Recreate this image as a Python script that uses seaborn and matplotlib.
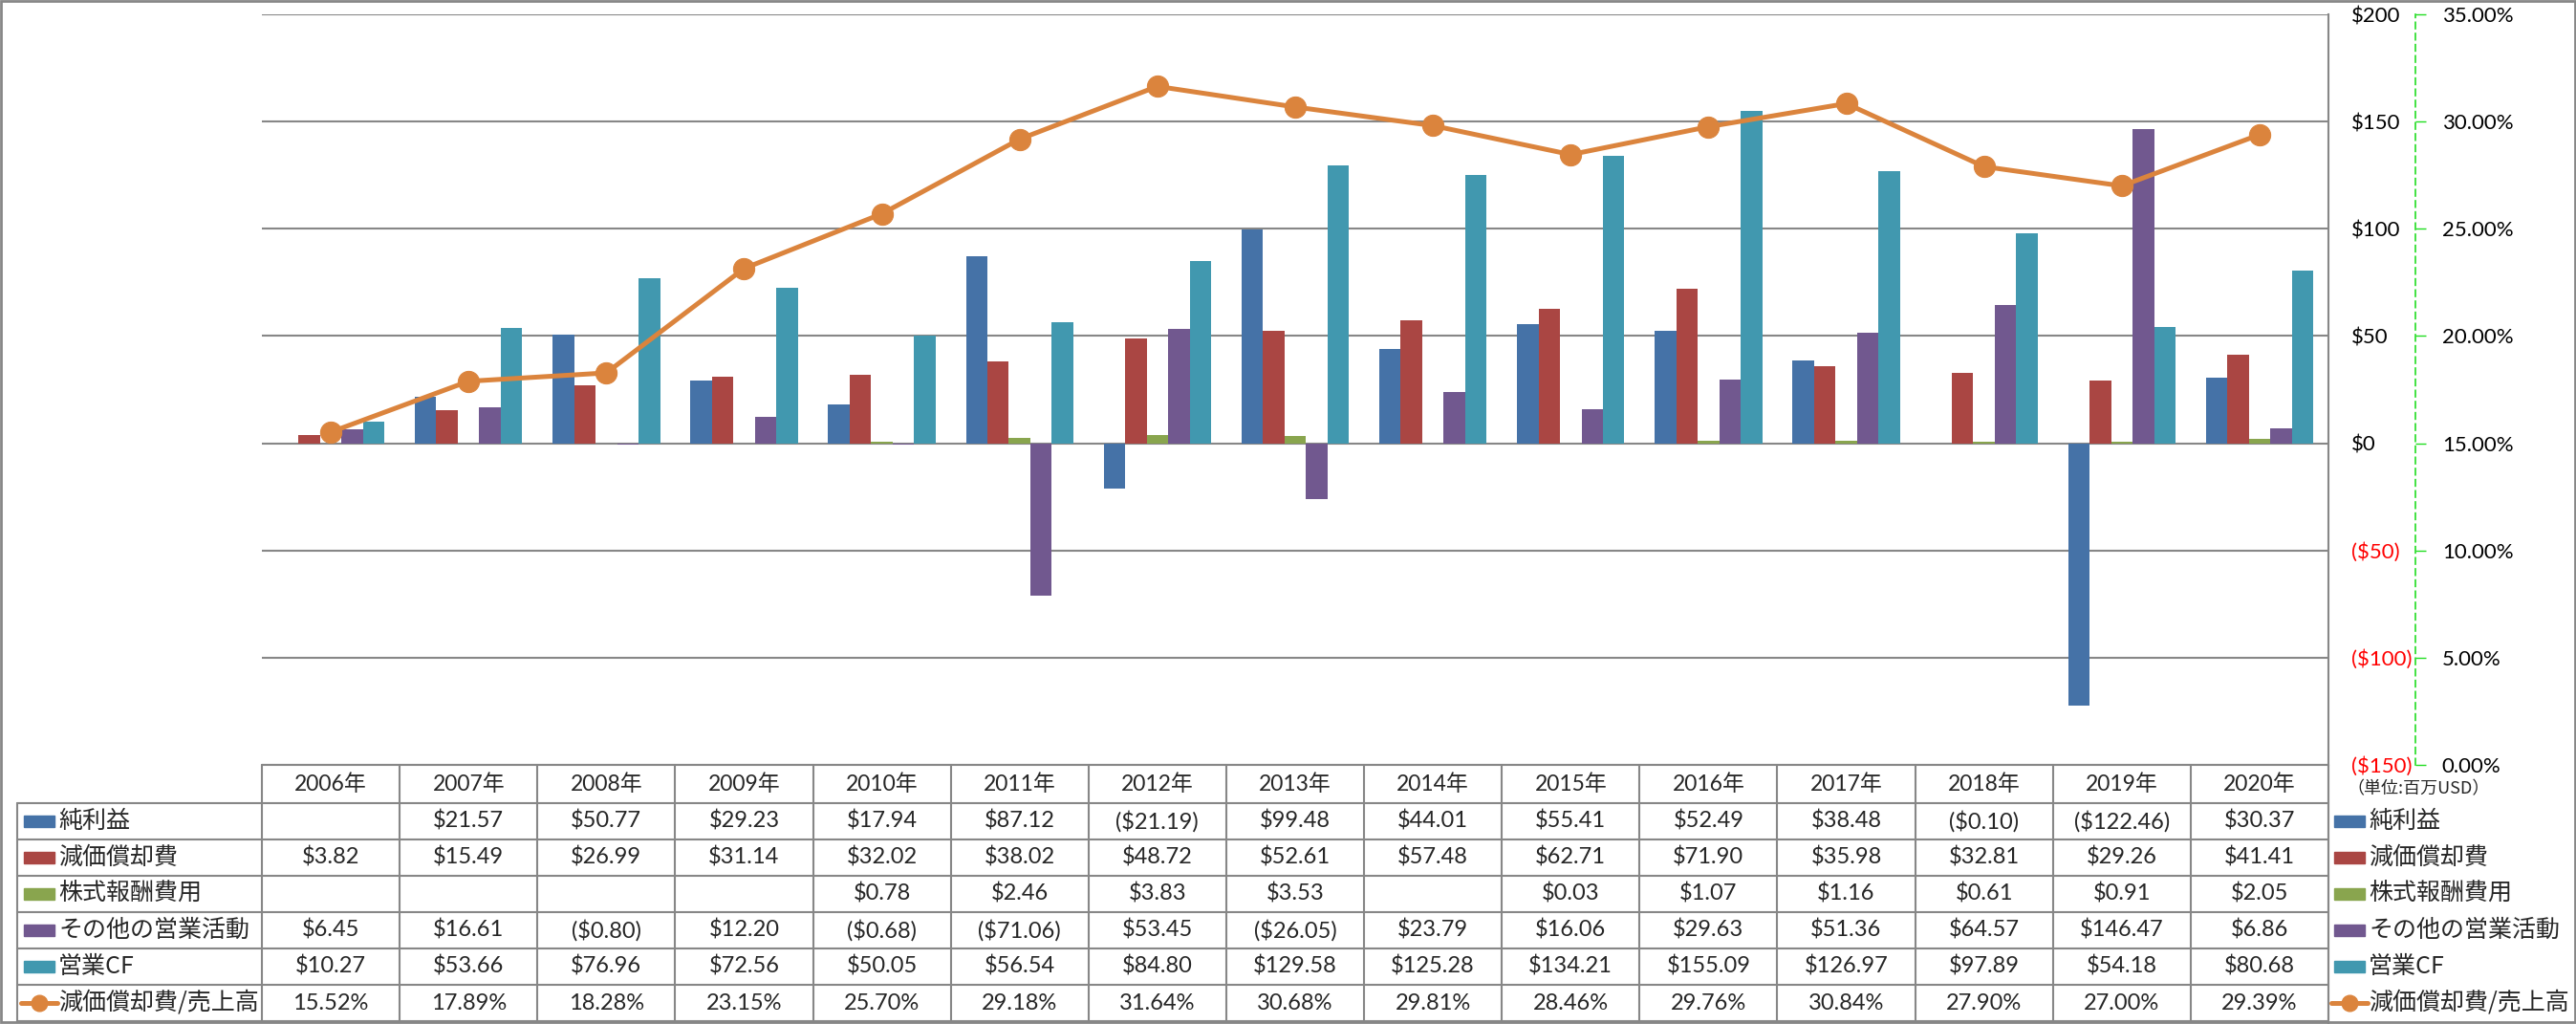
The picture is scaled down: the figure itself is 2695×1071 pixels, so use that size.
import numpy as np
import pandas as pd
import matplotlib
matplotlib.use("Agg")
import matplotlib.pyplot as plt
import matplotlib.ticker as mticker
from matplotlib.patches import Rectangle
from matplotlib.lines import Line2D
import seaborn as sns

# -----------------------------
# data (百万USD)
# -----------------------------
years = ["2006年", "2007年", "2008年", "2009年", "2010年", "2011年", "2012年", "2013年",
         "2014年", "2015年", "2016年", "2017年", "2018年", "2019年", "2020年"]
net_income = [np.nan, 21.57, 50.77, 29.23, 17.94, 87.12, -21.19, 99.48,
              44.01, 55.41, 52.49, 38.48, -0.10, -122.46, 30.37]
depreciation = [3.82, 15.49, 26.99, 31.14, 32.02, 38.02, 48.72, 52.61,
                57.48, 62.71, 71.90, 35.98, 32.81, 29.26, 41.41]
stock_comp = [np.nan, np.nan, np.nan, np.nan, 0.78, 2.46, 3.83, 3.53,
              np.nan, 0.03, 1.07, 1.16, 0.61, 0.91, 2.05]
other_ops = [6.45, 16.61, -0.80, 12.20, -0.68, -71.06, 53.45, -26.05,
             23.79, 16.06, 29.63, 51.36, 64.57, 146.47, 6.86]
operating_cf = [10.27, 53.66, 76.96, 72.56, 50.05, 56.54, 84.80, 129.58,
                125.28, 134.21, 155.09, 126.97, 97.89, 54.18, 80.68]
dep_to_sales = [15.52, 17.89, 18.28, 23.15, 25.70, 29.18, 31.64, 30.68,
                29.81, 28.46, 29.76, 30.84, 27.90, 27.00, 29.39]  # %

bar_series = ["純利益", "減価償却費", "株式報酬費用", "その他の営業活動", "営業CF"]
line_series = "減価償却費/売上高"
bar_colors = ["#4572A7", "#AA4643", "#89A54E", "#71588F", "#4198AF"]
line_color = "#DB843D"

wide = pd.DataFrame({"year": years,
                     bar_series[0]: net_income,
                     bar_series[1]: depreciation,
                     bar_series[2]: stock_comp,
                     bar_series[3]: other_ops,
                     bar_series[4]: operating_cf})
long = wide.melt(id_vars="year", var_name="series", value_name="value").dropna()

# -----------------------------
# style
# -----------------------------
sns.set_theme(style="white")
plt.rcParams["font.family"] = ["Lato", "Noto Sans CJK JP", "DejaVu Sans"]
JP = ["Noto Sans CJK JP", "DejaVu Sans"]
GRID = "#878787"

W, H = 2695, 1071
fig = plt.figure(figsize=(W / 100, H / 100), dpi=100)
fig.patch.set_facecolor("white")

PL, PR, PT, PB = 274, 2436, 15, 800
ax = fig.add_axes([PL / W, 1 - PB / H, (PR - PL) / W, (PB - PT) / H])

sns.barplot(data=long, x="year", y="value", hue="series", order=years,
            hue_order=bar_series, palette=bar_colors, saturation=1,
            width=0.78, errorbar=None, linewidth=0, legend=False, ax=ax)

# ratio line on secondary axis (twinx moves ax ticks to the left, so do it first)
ax2 = ax.twinx()
sns.lineplot(x=np.arange(len(years)), y=np.array(dep_to_sales) / 100, ax=ax2,
             color=line_color, linewidth=3.6, marker="o", markersize=16,
             markeredgecolor=line_color, legend=False)
ax2.set_ylim(0, 0.35)
ax2.set_yticks(np.arange(0, 0.351, 0.05))
ax2.yaxis.set_major_formatter(mticker.PercentFormatter(1.0, decimals=2))
ax2.tick_params(axis="y", direction="out", length=8, width=1, color="#22DD22",
                pad=12, labelsize=16, labelcolor="black")
for s in ["left", "top", "bottom"]:
    ax2.spines[s].set_visible(False)
ax2.spines["right"].set_position(("axes", (2527 - PL) / (PR - PL)))
ax2.spines["right"].set_color("#22DD22")
ax2.spines["right"].set_linestyle((0, (4, 3)))
ax2.spines["right"].set_linewidth(1.2)
ax2.set_ylabel("")

ax.set_ylim(-150, 200)
yt = list(range(-150, 201, 50))
ax.set_yticks(yt)
ax.yaxis.tick_right()
ax.yaxis.set_major_formatter(mticker.FuncFormatter(
    lambda v, p: f"(${abs(v):.0f})" if v < 0 else f"${v:.0f}"))
ax.tick_params(axis="y", length=0, pad=17, labelsize=16)
for tick, v in zip(ax.yaxis.get_major_ticks(), yt):
    tick.label2.set_color("#FF0000" if v < 0 else "black")
ax.tick_params(axis="x", length=0, labelbottom=False)
ax.set_xlabel("")
ax.set_ylabel("")
ax.grid(axis="y", color=GRID, linewidth=1.5)
ax.set_axisbelow(True)
for s in ["left", "top", "bottom"]:
    ax.spines[s].set_visible(False)
ax.spines["right"].set_color(GRID)
ax.spines["right"].set_linewidth(1.5)
ax.set_facecolor("none")
ax.set_xlim(-0.5, len(years) - 0.5)

# -----------------------------
# data table below the chart
# -----------------------------
ov = fig.add_axes([0, 0, 1, 1], zorder=-1)
ov.set_xlim(0, W)
ov.set_ylim(H, 0)
ov.axis("off")

def money(v):
    if np.isnan(v):
        return ""
    return f"(${abs(v):.2f})" if v < 0 else f"${v:.2f}"

rows = [net_income, depreciation, stock_comp, other_ops, operating_cf]
texts = [[money(v) for v in r] for r in rows]
texts.append([f"{v:.2f}%" for v in dep_to_sales])
labels = bar_series + [line_series]
keys = bar_colors + [line_color]

col_edges = np.linspace(PL, PR, len(years) + 1)
HT, HB, RH, TL = 800, 840, 38, 18
row_edges = [HB + RH * k for k in range(len(labels) + 1)]
lkw = dict(color=GRID, linewidth=1.5)

ov.plot([PL, PR], [HT, HT], **lkw)
for y in row_edges:
    ov.plot([TL, PR], [y, y], **lkw)
for x in col_edges:
    ov.plot([x, x], [HT, row_edges[-1]], **lkw)
ov.plot([TL, TL], [HB, row_edges[-1]], **lkw)
ov.plot([PR, PR], [PB, H], **lkw)

centers = (col_edges[:-1] + col_edges[1:]) / 2
for c, yr in zip(centers, years):
    ov.text(c, (HT + HB) / 2, yr, ha="center", va="center", fontsize=16.5,
            family=["Lato", "Noto Sans CJK JP"])

for i, (lab, col, vals) in enumerate(zip(labels, keys, texts)):
    yc = row_edges[i] + RH / 2
    for kx, tx in [(25, 61), (2442, 2478)]:
        if i < len(bar_series):
            ov.add_patch(Rectangle((kx, yc - 6), 32, 12, color=col))
        else:
            ov.add_line(Line2D([kx - 3, kx + 35], [yc, yc], color=col, linewidth=3.6))
            ov.add_line(Line2D([kx + 16], [yc], marker="o", markersize=12,
                               color=col, markeredgecolor=col))
        ov.text(tx, yc, lab, ha="left", va="center", fontsize=18, family=JP)
    for c, t in zip(centers, vals):
        ov.text(c, yc, t, ha="center", va="center", fontsize=17)

ov.text(2455, 825, "（単位:百万USD）", ha="left", va="center", fontsize=13, family=JP)

# outer frame
ov.add_patch(Rectangle((1, 1), W - 2, H - 3, fill=False, edgecolor=GRID, linewidth=2))

fig.savefig("out.png", dpi=100)
